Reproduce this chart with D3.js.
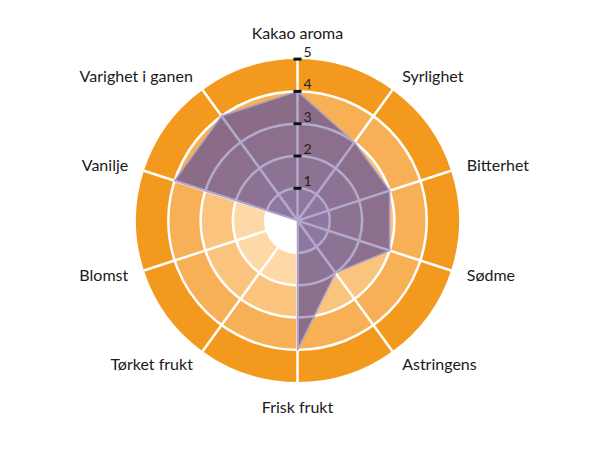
<!DOCTYPE html>
<html>
<head>
<meta charset="utf-8">
<script src="https://cdn.jsdelivr.net/npm/d3@7"></script>
<style>
    body { margin: 0; background: #fff; }
    text { font-family: Lato, "Open Sans", sans-serif; font-weight: 400; }
</style>
</head>
<body>
<div id="chart"></div>
<script>
// chart data
const categories = ["Kakao aroma", "Syrlighet", "Bitterhet", "Sødme", "Astringens",
    "Frisk frukt", "Tørket frukt", "Blomst", "Vanilje", "Varighet i ganen"];
const scores = [4, 3, 3, 3, 2, 4, 0, 0, 4, 4];
const bandLevels = [1, 2, 3, 4, 5];
const tickValues = [1, 2, 3, 4, 5];

// band colours, inner to outer
const bandColors = ["#ffffff", "#fdd9a7", "#fac47f", "#f8b057", "#f39a1e"];

const width = 610, height = 450;
const center = {x: 297.5, y: 220.6};
const outerRadius = 161.5;

const svg = d3.select("#chart").append("svg")
    .attr("width", width)
    .attr("height", height);

const g = svg.append("g")
    .attr("transform", "translate(" + center.x + "," + center.y + ")");

const r = d3.scaleLinear().domain([0, 5]).range([0, outerRadius]);
const angle = d3.scaleLinear().domain([0, categories.length]).range([0, 2 * Math.PI]);
const color = d3.scaleOrdinal().domain(bandLevels).range(bandColors);

// orange bands, one sector per category
const arc = d3.arc();
let cells = [];
categories.forEach(function(c, i) {
    bandLevels.forEach(function(level) {
        cells.push({i: i, level: level});
    });
});

g.selectAll(".band")
    .data(cells)
    .enter().append("path")
    .attr("class", "band")
    .attr("d", d => arc({
        innerRadius: r(d.level - 1),
        outerRadius: r(d.level),
        startAngle: angle(d.i),
        endAngle: angle(d.i + 1)
    }))
    .attr("fill", d => color(d.level));

// grid (drawn twice: white below, lavender clipped to the polygon above)
function drawGrid(parent, stroke) {
    parent.selectAll(".ring")
        .data(tickValues.slice(0, -1))
        .enter().append("circle")
        .attr("r", d => r(d))
        .attr("fill", "none")
        .attr("stroke", stroke)
        .attr("stroke-width", 2.5);

    parent.selectAll(".spoke")
        .data(categories)
        .enter().append("line")
        .attr("x1", 0).attr("y1", 0)
        .attr("x2", (d, i) => r(5) * Math.sin(angle(i)))
        .attr("y2", (d, i) => -r(5) * Math.cos(angle(i)))
        .attr("stroke", stroke)
        .attr("stroke-width", 2.5);
}
drawGrid(g.append("g"), "#ffffff");

// score polygon
const radarLine = d3.lineRadial()
    .angle((d, i) => angle(i))
    .radius(d => r(d))
    .curve(d3.curveLinearClosed);

svg.append("defs").append("clipPath")
    .attr("id", "polyClip")
    .append("path")
    .attr("d", radarLine(scores));

g.append("path")
    .attr("d", radarLine(scores))
    .attr("fill", "#78608f")
    .attr("fill-opacity", 0.85)
    .attr("stroke", "#a99fc6")
    .attr("stroke-width", 1.5)
    .attr("stroke-linejoin", "round");

drawGrid(g.append("g").attr("clip-path", "url(#polyClip)"), "#b3a9cb");

// value ticks on the top axis
g.selectAll(".tick")
    .data(tickValues)
    .enter().append("line")
    .attr("x1", -4).attr("x2", 4)
    .attr("y1", d => -r(d)).attr("y2", d => -r(d))
    .attr("stroke", "#111")
    .attr("stroke-width", 3);

g.selectAll(".tickLabel")
    .data(tickValues)
    .enter().append("text")
    .attr("x", 6)
    .attr("y", d => -r(d) - 2)
    .attr("font-size", 14)
    .attr("fill", "#222")
    .text(d => d);

// category labels
const labelRadius = 178;
g.selectAll(".catLabel")
    .data(categories)
    .enter().append("text")
    .each(function(d, i) {
        const a = angle(i);
        const s = Math.sin(a), c = Math.cos(a);
        let anchor = "middle", rr = labelRadius;
        if (s > 0.3) anchor = "start";
        else if (s < -0.3) anchor = "end";
        else rr = labelRadius + 9;
        d3.select(this)
            .attr("x", rr * s)
            .attr("y", -rr * c)
            .attr("dy", "0.35em")
            .attr("text-anchor", anchor);
    })
    .attr("font-size", 16)
    .attr("fill", "#1a1a1a")
    .text(d => d);
</script>
</body>
</html>
